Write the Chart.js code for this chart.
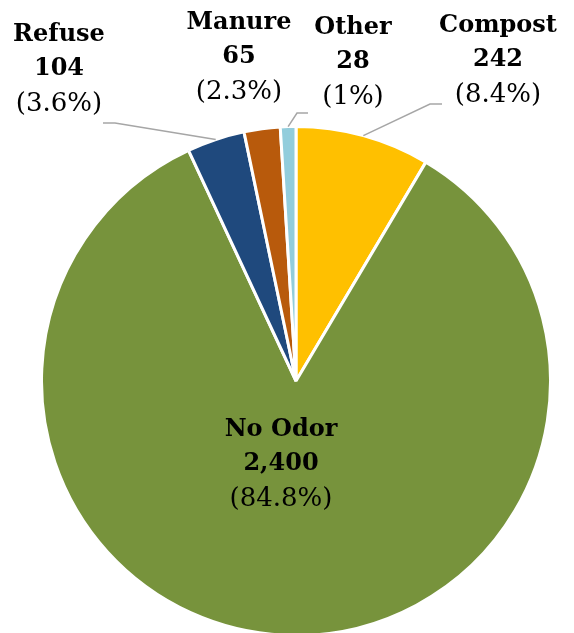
<!DOCTYPE html>
<html>
<head>
<meta charset="utf-8">
<script src="https://cdn.jsdelivr.net/npm/chart.js@4/dist/chart.umd.min.js"></script>
<style>
  html, body { margin: 0; padding: 0; background: #fff; overflow: hidden; }
  #wrap { width: 574px; height: 640px; position: relative; }
</style>
</head>
<body>
<div id="wrap"><canvas id="odorChart"></canvas></div>
<script>
// Odor categories, clockwise from 12 o'clock
const categories = ['Compost', 'No Odor', 'Refuse', 'Manure', 'Other'];
const counts = [242, 2400, 104, 65, 28];
const countLabels = ['242', '2,400', '104', '65', '28'];
const percentLabels = ['(8.4%)', '(84.8%)', '(3.6%)', '(2.3%)', '(1%)'];
const sliceColors = ['#FFC000', '#77933C', '#1F497D', '#B85A0C', '#92CDDC'];

// where each label block sits (center x, y of first line) and whether it gets a leader line
const labelSpots = [
    { x: 498, y: 26, leader: [[442, 104], [430, 104]] },
    { x: 281, y: 430, leader: null },
    { x: 59, y: 35, leader: [[103, 123], [115, 123]] },
    { x: 239, y: 23, leader: null },
    { x: 353, y: 28, leader: [[308, 113], [297, 113]] }
];

const labelPlugin = {
    id: 'odorLabels',
    afterDatasetsDraw(chart) {
        const ctx = chart.ctx;
        const arcs = chart.getDatasetMeta(0).data;
        ctx.save();
        arcs.forEach((arc, i) => {
            const spot = labelSpots[i];
            if (spot.leader) {
                const p = arc.getProps(['x', 'y', 'startAngle', 'endAngle', 'outerRadius'], true);
                const mid = (p.startAngle + p.endAngle) / 2;
                const ex = p.x + Math.cos(mid) * p.outerRadius;
                const ey = p.y + Math.sin(mid) * p.outerRadius;
                ctx.strokeStyle = '#A6A6A6';
                ctx.lineWidth = 1.5;
                ctx.beginPath();
                ctx.moveTo(spot.leader[0][0], spot.leader[0][1]);
                ctx.lineTo(spot.leader[1][0], spot.leader[1][1]);
                ctx.lineTo(ex, ey);
                ctx.stroke();
            }
            ctx.fillStyle = '#000';
            ctx.textAlign = 'center';
            ctx.textBaseline = 'middle';
            ctx.font = 'bold 24px "DejaVu Serif"';
            ctx.fillText(categories[i], spot.x, spot.y);
            ctx.fillText(countLabels[i], spot.x, spot.y + 34);
            ctx.font = '26px "DejaVu Serif"';
            ctx.fillText(percentLabels[i], spot.x, spot.y + 69);
        });
        ctx.restore();
    }
};

new Chart(document.getElementById('odorChart'), {
    type: 'pie',
    data: {
        labels: categories,
        datasets: [{
            data: counts,
            backgroundColor: sliceColors,
            borderColor: '#FFFFFF',
            borderWidth: 3
        }]
    },
    options: {
        responsive: true,
        maintainAspectRatio: false,
        animation: false,
        layout: { padding: { left: 40, right: 22, top: 125, bottom: 3 } },
        plugins: {
            legend: { display: false },
            tooltip: { enabled: false }
        }
    },
    plugins: [labelPlugin]
});
</script>
</body>
</html>
